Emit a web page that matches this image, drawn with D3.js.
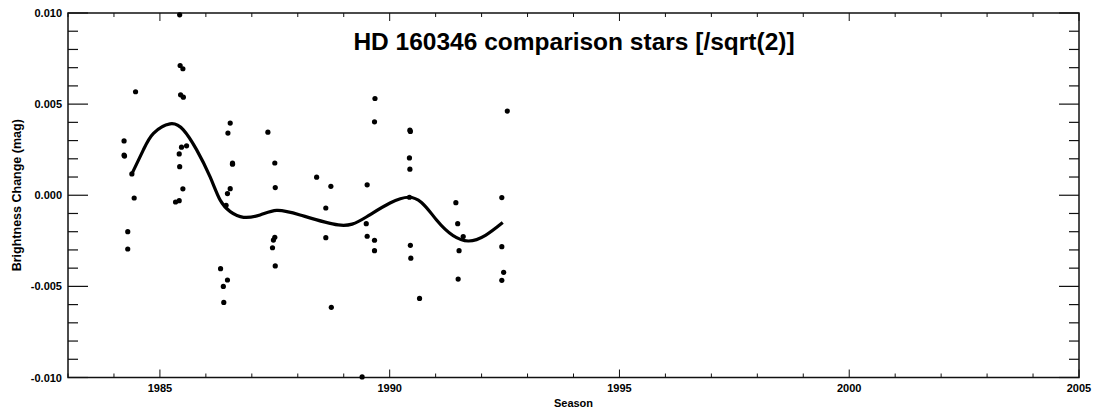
<!DOCTYPE html>
<html><head><meta charset="utf-8">
<script src="https://cdn.jsdelivr.net/npm/d3@7"></script>
<style>body{margin:0;background:#fff}svg{display:block}text{font-family:"Liberation Sans",Arial,sans-serif}</style>
</head><body><svg id="c" width="1099" height="414"></svg>
<script>
const title = "HD 160346 comparison stars [/sqrt(2)]";
const xLabel = "Season";
const yLabel = "Brightness Change (mag)";
const xTickLabels = [1985, 1990, 1995, 2000, 2005];
const yTickLabels = [-0.010, -0.005, 0.000, 0.005, 0.010];
// observations: season (year) and brightness change (mag)
const obsYear = [
  1984.22,1984.22,1984.23,1984.39,1984.44,1984.30,1984.30,1984.47,
  1985.43,1985.44,1985.50,1985.45,1985.51,1985.47,1985.58,1985.42,1985.43,1985.50,1985.34,1985.42,
  1986.53,1986.48,1986.58,1986.58,1986.53,1986.47,1986.44,1986.32,1986.47,1986.38,1986.39,
  1987.35,1987.50,1987.51,1987.50,1987.47,1987.45,1987.51,
  1988.41,1988.72,1988.61,1988.61,1988.73,
  1989.68,1989.67,1989.51,1989.49,1989.51,1989.67,1989.67,1989.40,
  1990.44,1990.45,1990.43,1990.44,1990.43,1990.45,1990.46,1990.65,
  1991.44,1991.48,1991.60,1991.51,1991.49,
  1992.56,1992.44,1992.44,1992.48,1992.44
];
const obsMag = [
  0.00298,0.00220,0.00215,0.00117,-0.00015,-0.00200,-0.00295,0.00568,
  0.00990,0.00712,0.00694,0.00551,0.00538,0.00264,0.00271,0.00227,0.00157,0.00035,-0.00037,-0.00030,
  0.00396,0.00341,0.00176,0.00170,0.00036,0.00009,-0.00055,-0.00403,-0.00465,-0.00500,-0.00588,
  0.00346,0.00177,0.00042,-0.00231,-0.00246,-0.00288,-0.00388,
  0.00099,0.00049,-0.00070,-0.00233,-0.00615,
  0.00531,0.00403,0.00057,-0.00156,-0.00225,-0.00247,-0.00304,-0.00997,
  0.00357,0.00350,0.00205,0.00143,-0.00011,-0.00275,-0.00345,-0.00566,
  -0.00041,-0.00156,-0.00227,-0.00304,-0.00460,
  0.00462,-0.00013,-0.00282,-0.00423,-0.00467
];
// smoothed fit curve
const fitYear = [1984.39,1984.64,1984.86,1985.22,1985.51,1985.80,1986.09,1986.31,1986.53,1986.82,1987.18,1987.54,1988.05,1988.88,1989.50,1990.41,1991.02,1991.71,1992.46];
const fitMag  = [0.00117,0.00249,0.00340,0.00392,0.00359,0.00249,0.00102,-0.00026,-0.00090,-0.00121,-0.00108,-0.00083,-0.00108,-0.00163,-0.00118,-0.00011,-0.00136,-0.00251,-0.00150];

const svg = d3.select("#c");
const L = 68, R = 1079, T = 13, B = 377.5;
const x = d3.scaleLinear().domain([1983, 2005]).range([L, R]);
const y = d3.scaleLinear().domain([-0.010, 0.010]).range([B, T]);
const axisColor = "#111";

const g = svg.append("g");
const xMinor = d3.range(1983, 2006, 1);
const yMinor = d3.range(-10, 11, 1).map(v => v / 1000);
function isMajorY(v){ return Math.abs(Math.round(v*1000)) % 5 === 0; }
xMinor.forEach(v => {
  const len = v % 5 === 0 ? 8 : 4;
  g.append("line").attr("x1", x(v)).attr("x2", x(v)).attr("y1", B).attr("y2", B - len).attr("stroke", axisColor).attr("stroke-width", 1);
  g.append("line").attr("x1", x(v)).attr("x2", x(v)).attr("y1", T).attr("y2", T + len).attr("stroke", axisColor).attr("stroke-width", 1);
});
yMinor.forEach(v => {
  const len = isMajorY(v) ? 20 : 10;
  g.append("line").attr("x1", L).attr("x2", L + len).attr("y1", y(v)).attr("y2", y(v)).attr("stroke", axisColor).attr("stroke-width", 1.2);
  g.append("line").attr("x1", R).attr("x2", R - len).attr("y1", y(v)).attr("y2", y(v)).attr("stroke", axisColor).attr("stroke-width", 1.2);
});
g.append("rect").attr("x", L).attr("y", T).attr("width", R - L).attr("height", B - T)
  .attr("fill", "none").attr("stroke", axisColor).attr("stroke-width", 1.5);

svg.append("g").selectAll("text").data(xTickLabels).join("text")
  .attr("x", d => x(d)).attr("y", 392).attr("text-anchor", "middle")
  .attr("font-size", 11).attr("font-weight", "bold").text(d => d);
svg.append("g").selectAll("text").data(yTickLabels).join("text")
  .attr("x", 62).attr("y", d => y(d) + 4).attr("text-anchor", "end")
  .attr("font-size", 11).attr("font-weight", "bold").text(d => d3.format(".3f")(d).replace("−", "-"));

svg.append("text").attr("x", (L + R) / 2).attr("y", 407).attr("text-anchor", "middle")
  .attr("font-size", 11).attr("font-weight", "bold").text(xLabel);
svg.append("text").attr("transform", `translate(21,${(T + B) / 2}) rotate(-90)`).attr("text-anchor", "middle")
  .attr("font-size", 12.5).attr("font-weight", "bold").text(yLabel);
svg.append("text").attr("x", 574).attr("y", 50).attr("text-anchor", "middle")
  .attr("font-size", 24.5).attr("font-weight", "bold").text(title);

const line = d3.line().x(d => x(d[0])).y(d => y(d[1])).curve(d3.curveNatural);
svg.append("path").datum(fitYear.map((v, i) => [v, fitMag[i]]))
  .attr("d", line).attr("fill", "none").attr("stroke", "#000").attr("stroke-width", 3.2);

svg.append("g").selectAll("circle").data(obsYear.map((v, i) => [v, obsMag[i]])).join("circle")
  .attr("cx", d => x(d[0])).attr("cy", d => y(d[1])).attr("r", 2.6).attr("fill", "#000");
</script></body></html>
